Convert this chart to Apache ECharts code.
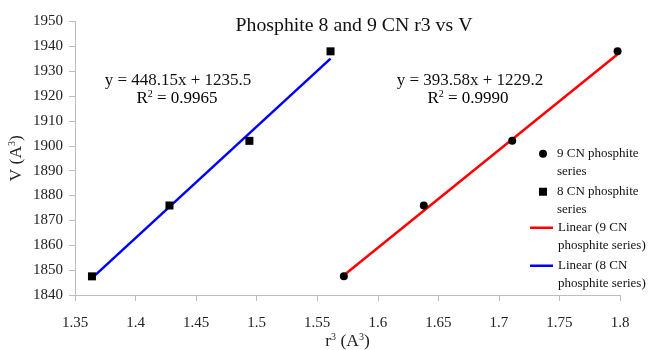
<!DOCTYPE html>
<html>
<head>
<meta charset="utf-8">
<script src="https://cdn.jsdelivr.net/npm/echarts@6/dist/echarts.min.js"></script>
<style>html,body{margin:0;padding:0;background:#fff;}#c{width:649px;height:350px;}</style>
</head>
<body>
<div id="c"></div>
<script>
// ---- data ----
const volumes = [1847.5, 1876, 1902, 1938];          // V (A^3)
const r3Cn9 = [1.572, 1.638, 1.711, 1.798];          // 9 CN r^3
const r3Cn8 = [1.364, 1.428, 1.494, 1.561];          // 8 CN r^3
const seriesNames = ['9 CN phosphite series', '8 CN phosphite series'];
const fitSlopes = [393.58, 448.15];
const fitIntercepts = [1229.2, 1235.5];
const fitR2 = ['0.9990', '0.9965'];
const legendLabels = {
  '9 CN phosphite series': '9 CN phosphite\nseries',
  '8 CN phosphite series': '8 CN phosphite\nseries',
  'Linear (9 CN phosphite series)': 'Linear (9 CN\nphosphite series)',
  'Linear (8 CN phosphite series)': 'Linear (8 CN\nphosphite series)'
};

const FONT = '"Liberation Serif", "Times New Roman", serif';
const pts = (xs) => xs.map((x, i) => [x, volumes[i]]);
const fitLine = (xs, k) => {
  const a = Math.min(...xs), b = Math.max(...xs);
  return [[a, fitSlopes[k] * a + fitIntercepts[k]], [b, fitSlopes[k] * b + fitIntercepts[k]]];
};
const eq = (k) => 'y = ' + fitSlopes[k].toFixed(2) + 'x + ' + fitIntercepts[k].toFixed(1);

const chart = echarts.init(document.getElementById('c'), null, {renderer: 'canvas'});
const legendText = {fontFamily: FONT, fontSize: 13, color: '#111', lineHeight: 17.5};
const richSup = {
  a: {fontFamily: FONT, fontSize: 17.5, color: '#222'},
  s: {fontFamily: FONT, fontSize: 10, color: '#222', padding: [0, 0, 9, 0]}
};
const eqRich = {
  a: {fontFamily: FONT, fontSize: 17, color: '#111'},
  s: {fontFamily: FONT, fontSize: 10, color: '#111', padding: [0, 0, 9, 0]}
};

chart.setOption({
  animation: false,
  backgroundColor: '#fff',
  title: {
    text: 'Phosphite 8 and 9 CN r3 vs V',
    left: 349, top: 11, textAlign: 'center',
    textStyle: {fontFamily: FONT, fontSize: 19.8, fontWeight: 'normal', color: '#111'}
  },
  grid: {left: 75, right: 29, top: 21.5, bottom: 55, outerBoundsMode: 'none', containLabel: false},
  legend: [
    {
      data: [
        {name: seriesNames[0], icon: 'circle'},
        {name: seriesNames[1], icon: 'path://M0,0L8,0L8,8L0,8Z'}
      ],
      orient: 'vertical', left: 534, top: 122.5, itemWidth: 18, itemHeight: 8, itemGap: -14.5,
      symbolKeepAspect: true,
      formatter: (n) => '\n' + legendLabels[n], textStyle: legendText, selectedMode: false
    },
    {
      data: [
        {name: 'Linear (' + seriesNames[0] + ')', icon: 'rect'},
        {name: 'Linear (' + seriesNames[1] + ')', icon: 'rect'}
      ],
      orient: 'vertical', left: 525, top: 196.5, itemWidth: 23, itemHeight: 2.5, itemGap: -14.5,
      formatter: (n) => '\n' + legendLabels[n], textStyle: legendText, selectedMode: false
    }
  ],
  xAxis: {
    type: 'value', min: 1.35, max: 1.8, interval: 0.05,
    name: '{a|r}{s|3}{a| (A}{s|3}{a|)}', nameLocation: 'middle', nameGap: 37, nameMoveOverlap: false,
    nameTextStyle: {rich: richSup},
    axisLine: {lineStyle: {color: '#bdbdbd'}},
    axisTick: {length: 6, lineStyle: {color: '#bdbdbd'}},
    axisLabel: {fontFamily: FONT, fontSize: 15, color: '#222', margin: 21},
    splitLine: {show: false}
  },
  yAxis: {
    type: 'value', min: 1840, max: 1950, interval: 10,
    name: '{a|V (A}{s|3}{a|)}', nameLocation: 'middle', nameGap: 49, nameRotate: 90, nameMoveOverlap: false,
    nameTextStyle: {rich: richSup},
    axisLine: {show: true, lineStyle: {color: '#bdbdbd'}},
    axisTick: {show: true, length: 6, lineStyle: {color: '#bdbdbd'}},
    axisLabel: {fontFamily: FONT, fontSize: 15, color: '#222', margin: 12, formatter: (v) => String(v)},
    splitLine: {show: false}
  },
  graphic: [
    {type: 'text', x: 178, y: 81, style: {text: eq(1), font: '17px ' + FONT, fill: '#111', align: 'center', verticalAlign: 'middle'}},
    {type: 'text', x: 177, y: 99, style: {text: '{a|R}{s|2}{a| = ' + fitR2[1] + '}', rich: eqRich, align: 'center', verticalAlign: 'middle'}},
    {type: 'text', x: 470, y: 81, style: {text: eq(0), font: '17px ' + FONT, fill: '#111', align: 'center', verticalAlign: 'middle'}},
    {type: 'text', x: 468, y: 99, style: {text: '{a|R}{s|2}{a| = ' + fitR2[0] + '}', rich: eqRich, align: 'center', verticalAlign: 'middle'}}
  ],
  series: [
    {
      name: 'Linear (' + seriesNames[0] + ')', type: 'line', data: fitLine(r3Cn9, 0),
      symbol: 'none', lineStyle: {color: '#ff0000', width: 2.5}, itemStyle: {color: '#ff0000'}, z: 2
    },
    {
      name: 'Linear (' + seriesNames[1] + ')', type: 'line', data: fitLine(r3Cn8, 1),
      symbol: 'none', lineStyle: {color: '#0000ff', width: 2.5}, itemStyle: {color: '#0000ff'}, z: 2
    },
    {
      name: seriesNames[0], type: 'scatter', data: pts(r3Cn9), symbol: 'circle', symbolSize: 8,
      itemStyle: {color: '#000', opacity: 1}, z: 3
    },
    {
      name: seriesNames[1], type: 'scatter', data: pts(r3Cn8), symbol: 'rect', symbolSize: 8,
      itemStyle: {color: '#000', opacity: 1}, z: 3
    }
  ]
});
</script>
</body>
</html>
